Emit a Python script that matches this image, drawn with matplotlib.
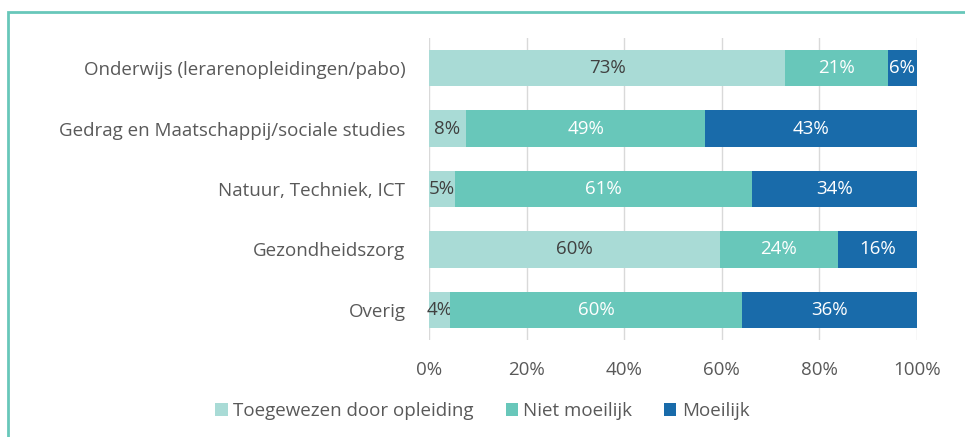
import matplotlib
matplotlib.use('Agg')
from matplotlib import pyplot as plt
from matplotlib.patches import Rectangle
from matplotlib.ticker import PercentFormatter

plt.rcParams['font.family'] = ['Open Sans', 'DejaVu Sans']

categories = ['Onderwijs (lerarenopleidingen/pabo)',
              'Gedrag en Maatschappij/sociale studies',
              'Natuur, Techniek, ICT',
              'Gezondheidszorg',
              'Overig']
toegewezen = [73.0, 7.6, 5.4, 59.6, 4.3]
niet_moeilijk = [21.0, 49.0, 60.8, 24.2, 59.8]
moeilijk = [6.0, 43.4, 33.8, 16.2, 35.9]
series_names = ['Toegewezen door opleiding', 'Niet moeilijk', 'Moeilijk']
xticks = [0, 20, 40, 60, 80, 100]

colors = ['#A9DBD6', '#68C7BA', '#196BAA']
label_colors = ['#404040', 'white', 'white']
text_grey = '#595959'
fs = 13.5

fig = plt.figure(figsize=(9.65, 4.37), dpi=100)
# teal frame around the chart
fig.patches.append(Rectangle((8 / 965, -0.2), 1.2, 1.2 - 12 / 437,
                             transform=fig.transFigure, fill=False,
                             edgecolor='#68C7BA', linewidth=2, zorder=0))

ax = fig.add_axes([429 / 965, 1 - 340 / 437, 488 / 965, 302 / 437])
ypos = list(range(len(categories)))[::-1]

left = [0] * len(categories)
for vals, name, c, lc in zip([toegewezen, niet_moeilijk, moeilijk],
                             series_names, colors, label_colors):
    bars = ax.barh(ypos, vals, left=left, height=0.6, color=c, label=name,
                   zorder=3)
    ax.bar_label(bars, labels=['%d%%' % round(v) for v in vals],
                 label_type='center', color=lc, fontsize=fs)
    left = [l + v for l, v in zip(left, vals)]

ax.set_ylim(-0.5, len(categories) - 0.5)
ax.set_xlim(0, 100)
ax.set_xticks(xticks)
ax.xaxis.set_major_formatter(PercentFormatter(decimals=0))
ax.set_yticks(ypos)
ax.set_yticklabels(categories)
ax.tick_params(axis='both', length=0, labelsize=fs, labelcolor=text_grey)
ax.tick_params(axis='x', pad=15)
ax.tick_params(axis='y', pad=17)
ax.grid(axis='x', color='#D9D9D9', linewidth=1, zorder=0)
for s in ax.spines.values():
    s.set_visible(False)

fig.legend(loc='center', bbox_to_anchor=(0.5, 1 - 411 / 437), ncol=3,
           frameon=False, fontsize=fs, labelcolor=text_grey,
           handlelength=0.65, handleheight=0.65, handletextpad=0.3,
           columnspacing=1.7)

plt.savefig('out.png', dpi=100)
